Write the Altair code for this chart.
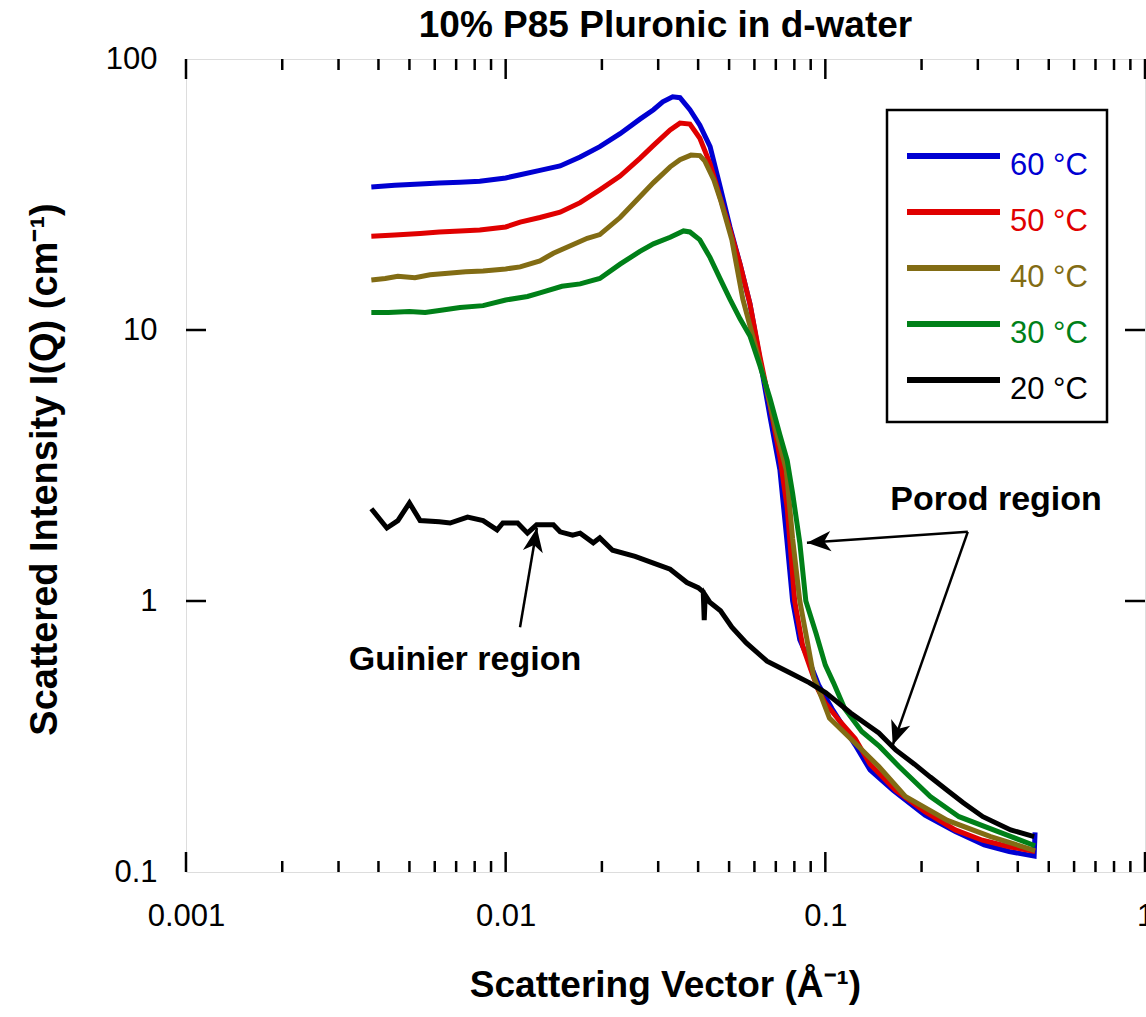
import math
import altair as alt
import pandas as pd

TITLE = "10% P85 Pluronic in d-water"
X_TITLE = "Scattering Vector (Å⁻¹)"
Y_TITLE = "Scattered Intensity I(Q) (cm⁻¹)"

labels = ["60 °C", "50 °C", "40 °C", "30 °C", "20 °C"]
colors = ["#0000d2", "#e00000", "#826c14", "#008018", "#000000"]

q60 = [0.0038, 0.0045, 0.0054, 0.0062, 0.0072, 0.0083, 0.0100, 0.0111, 0.0128, 0.0148,
       0.0171, 0.0197, 0.0228, 0.0263, 0.0290, 0.0310, 0.0333, 0.0351, 0.0377, 0.0405,
       0.0436, 0.0468, 0.0503, 0.0541, 0.0581, 0.0624, 0.0671, 0.0721, 0.0758, 0.0790,
       0.0832, 0.0885, 0.0953, 0.105, 0.124, 0.138, 0.163, 0.205, 0.255, 0.314,
       0.376, 0.450, 0.453]
I60 = [33.7, 34.2, 34.6, 34.9, 35.1, 35.4, 36.4, 37.4, 38.8, 40.3,
       43.5, 47.5, 53.0, 60.0, 65.0, 69.5, 72.5, 72.0, 65.0, 57.0,
       47.5, 34.0, 24.0, 17.5, 12.5, 7.8, 4.8, 3.04, 1.68, 1.0,
       0.72, 0.61, 0.49, 0.40, 0.294, 0.238, 0.20, 0.162, 0.141, 0.126,
       0.119, 0.1145, 0.14]

q50 = [0.0038, 0.0045, 0.0054, 0.0062, 0.0072, 0.0083, 0.0100, 0.0111, 0.0128, 0.0148,
       0.0171, 0.0197, 0.0228, 0.0263, 0.0290, 0.0327, 0.0351, 0.0377, 0.0405, 0.0436,
       0.0468, 0.0503, 0.0541, 0.0581, 0.0624, 0.0671, 0.0721, 0.0760, 0.0802, 0.0850,
       0.0900, 0.0950, 0.100, 0.111, 0.124, 0.138, 0.166, 0.205, 0.255, 0.310,
       0.376, 0.453]
I50 = [22.2, 22.4, 22.7, 23.0, 23.2, 23.4, 24.0, 25.0, 26.0, 27.2,
       29.5, 32.9, 37.0, 43.0, 48.0, 54.7, 58.0, 57.5, 51.0, 41.0,
       31.0, 23.5, 17.5, 12.5, 8.0, 5.3, 3.4, 2.2, 1.0, 0.68,
       0.56, 0.47, 0.42, 0.36, 0.31, 0.25, 0.20, 0.167, 0.143, 0.131,
       0.124, 0.119]

q40 = [0.0038, 0.0042, 0.0046, 0.0052, 0.0058, 0.0066, 0.0075, 0.0085, 0.0100, 0.0111,
       0.0128, 0.0141, 0.0160, 0.0180, 0.0197, 0.0228, 0.0263, 0.0290, 0.0327, 0.0351,
       0.0380, 0.0405, 0.0420, 0.0448, 0.0470, 0.0510, 0.0552, 0.0600, 0.0650, 0.0700,
       0.0755, 0.0790, 0.0832, 0.0880, 0.0920, 0.103, 0.120, 0.147, 0.178, 0.241,
       0.329, 0.453]
I40 = [15.3, 15.5, 15.8, 15.6, 16.0, 16.2, 16.4, 16.5, 16.8, 17.1,
       18.0, 19.2, 20.5, 21.8, 22.5, 26.0, 31.0, 35.0, 40.0, 42.5,
       44.2, 44.0, 42.0, 35.8, 30.2, 21.5, 13.0, 9.0, 6.3, 4.3,
       3.04, 1.7, 1.0, 0.70, 0.525, 0.37, 0.31, 0.245, 0.19, 0.155,
       0.135, 0.12]

q30 = [0.0038, 0.0043, 0.0050, 0.0056, 0.0062, 0.0072, 0.0085, 0.0100, 0.0117, 0.0128,
       0.0150, 0.0171, 0.0197, 0.0228, 0.0263, 0.0290, 0.0327, 0.0360, 0.0377, 0.0405,
       0.0436, 0.0468, 0.0503, 0.0541, 0.0581, 0.0624, 0.0671, 0.0721, 0.0760, 0.0790,
       0.0832, 0.0869, 0.0935, 0.100, 0.106, 0.115, 0.130, 0.148, 0.170, 0.213,
       0.262, 0.352, 0.453]
I30 = [11.6, 11.6, 11.7, 11.6, 11.8, 12.1, 12.3, 12.9, 13.3, 13.7,
       14.5, 14.8, 15.5, 17.5, 19.5, 20.8, 22.0, 23.2, 23.0, 21.5,
       18.5, 15.5, 13.0, 11.0, 9.5, 7.4, 5.6, 4.1, 3.3, 2.5,
       1.64, 1.0, 0.76, 0.58, 0.50, 0.40, 0.33, 0.29, 0.245, 0.19,
       0.16, 0.14, 0.125]

q20 = [0.0038, 0.00425, 0.0046, 0.0050, 0.0054, 0.0062, 0.0067, 0.0076, 0.0085, 0.0094,
       0.0098, 0.0109, 0.0117, 0.0125, 0.0141, 0.0148, 0.0162, 0.0171, 0.0188, 0.0197,
       0.0216, 0.0254, 0.0290, 0.0327, 0.0369, 0.0400, 0.0415, 0.0418, 0.0421, 0.0435,
       0.0470, 0.0510, 0.0566, 0.0657, 0.0783, 0.0890, 0.1004, 0.120, 0.147, 0.166,
       0.190, 0.213, 0.241, 0.270, 0.311, 0.380, 0.450]
I20 = [2.19, 1.86, 1.98, 2.30, 1.98, 1.96, 1.94, 2.04, 1.98, 1.83,
       1.94, 1.94, 1.78, 1.91, 1.91, 1.80, 1.75, 1.78, 1.64, 1.71,
       1.54, 1.46, 1.38, 1.31, 1.17, 1.12, 1.08, 0.85, 1.05, 0.99,
       0.92, 0.80, 0.70, 0.60, 0.54, 0.50, 0.458, 0.386, 0.326, 0.282,
       0.25, 0.224, 0.20, 0.18, 0.16, 0.143, 0.135]

x_tick_values = [0.001, 0.01, 0.1, 1]
x_minor_ticks = [0.002, 0.003, 0.004, 0.005, 0.006, 0.007, 0.008, 0.009,
                 0.02, 0.03, 0.04, 0.05, 0.06, 0.07, 0.08, 0.09,
                 0.2, 0.3, 0.4, 0.5, 0.6, 0.7, 0.8, 0.9]
y_tick_values = [0.1, 1, 10, 100]
y_inner_ticks = [1, 10]

ann_q = [0.00746, 0.342]
ann_I = [0.605, 2.36]
ann_text = ["Guinier region", "Porod region"]

arrow_q = [0.01109, 0.279, 0.279]
arrow_I = [0.80, 1.80, 1.80]
arrow_q2 = [0.01252, 0.0876, 0.1625]
arrow_I2 = [1.86, 1.64, 0.294]

# ---------------------------------------------------------------
W, H = 959, 813
FONT = "Liberation Sans"

series = [(labels[0], q60, I60), (labels[1], q50, I50), (labels[2], q40, I40),
          (labels[3], q30, I30), (labels[4], q20, I20)]
rows = []
for lab, qs, Is in series:
    assert len(qs) == len(Is), lab
    for k, (q, i) in enumerate(zip(qs, Is)):
        rows.append({"label": lab, "q": q, "I": i, "k": k})
df = pd.DataFrame(rows)

xscale = alt.Scale(type="log", domain=[0.001, 1], nice=False)
yscale = alt.Scale(type="log", domain=[0.1, 100], nice=False)
color_enc = alt.Color("label:N", scale=alt.Scale(domain=labels, range=colors), legend=None)

xaxis = alt.Axis(values=x_tick_values, format="~g", ticks=False, tickSize=0, domain=False,
                 grid=False, labelFont=FONT, labelFontSize=31, labelColor="black",
                 labelPadding=29, labelFlush=False, labelOverlap=False, labelBound=False,
                 title=X_TITLE, titleFont=FONT, titleFontSize=37, titleFontWeight="bold",
                 titleColor="black", titleX=479, titleY=113, titleAlign="center",
                 titleBaseline="middle")
yaxis = alt.Axis(values=y_tick_values, format="~g", ticks=False, tickSize=0, domain=False,
                 grid=False, labelFont=FONT, labelFontSize=31, labelColor="black",
                 labelPadding=29, labelFlush=False, labelOverlap=False,
                 title=Y_TITLE, titleFont=FONT, titleFontSize=38, titleFontWeight="bold",
                 titleColor="black", titleX=-141, titleY=410, titleAngle=270,
                 titleAlign="center", titleBaseline="middle")

# every x encoding carries the same axis definition so they merge into one axis
X = alt.X("q:Q", scale=xscale, axis=xaxis)
yt = alt.Y("I:Q", scale=yscale, axis=None)

layers = []
for idx, lab in enumerate(labels):
    layers.append(
        alt.Chart(df).transform_filter(alt.datum.label == lab)
        .mark_line(strokeWidth=5, strokeJoin="miter")
        .encode(
            x=X,
            y=alt.Y("I:Q", scale=yscale, axis=yaxis if idx == 0 else None),
            color=color_enc,
            order="k:Q",
        )
    )

# tick marks (inward)
df_xmaj = pd.DataFrame({"q": x_tick_values})
df_xmin = pd.DataFrame({"q": x_minor_ticks})
df_ytk = pd.DataFrame({"I": y_inner_ticks})
rule = dict(color="black", strokeWidth=2.5)
layers += [
    alt.Chart(df_xmaj).mark_rule(**rule).encode(x=X, y=alt.value(H), y2=alt.value(H - 20)),
    alt.Chart(df_xmaj).mark_rule(**rule).encode(x=X, y=alt.value(0), y2=alt.value(20)),
    alt.Chart(df_xmin).mark_rule(**rule).encode(x=X, y=alt.value(H), y2=alt.value(H - 11)),
    alt.Chart(df_xmin).mark_rule(**rule).encode(x=X, y=alt.value(0), y2=alt.value(11)),
    alt.Chart(df_ytk).mark_rule(**rule).encode(y=yt, x=alt.value(0), x2=alt.value(20)),
    alt.Chart(df_ytk).mark_rule(**rule).encode(y=yt, x=alt.value(W - 20), x2=alt.value(W)),
]

# annotations
df_ann = pd.DataFrame({"q": ann_q, "I": ann_I, "text": ann_text})
layers.append(
    alt.Chart(df_ann).mark_text(font=FONT, fontSize=34, fontWeight="bold", color="black",
                                align="center", baseline="middle")
    .encode(x=X, y=yt, text="text:N")
)
angles = []
for q1, i1, q2, i2 in zip(arrow_q, arrow_I, arrow_q2, arrow_I2):
    dsx = (math.log10(q2) - math.log10(q1)) * W / 3
    dsy = -(math.log10(i2) - math.log10(i1)) * H / 3
    angles.append(math.degrees(math.atan2(dsx, -dsy)) % 360)
df_arr = pd.DataFrame({"q": arrow_q, "I": arrow_I, "q2": arrow_q2, "I2": arrow_I2,
                       "angle": angles})
layers.append(
    alt.Chart(df_arr).mark_rule(color="black", strokeWidth=2.5)
    .encode(x=X, y=yt, x2="q2:Q", y2="I2:Q")
)
ARROW = "M0,0 L0.42,1 L0,0.72 L-0.42,1 Z"
layers.append(
    alt.Chart(df_arr).mark_point(shape=ARROW, filled=True, size=2300, color="black",
                                 opacity=1, strokeWidth=0)
    .encode(x=alt.X("q2:Q", scale=xscale, axis=xaxis),
            y=alt.Y("I2:Q", scale=yscale, axis=None),
            angle=alt.Angle("angle:Q", scale=None))
)

# legend box
df_leg = pd.DataFrame({"label": labels})
leg_y = alt.Y("label:N", scale=alt.Scale(type="point", domain=labels, range=[97, 321], padding=0),
              axis=None)
layers += [
    alt.Chart(pd.DataFrame({"a": [0]})).mark_rect(fill="white", stroke="black", strokeWidth=2.5)
    .encode(x=alt.value(701), x2=alt.value(921), y=alt.value(51), y2=alt.value(363)),
    alt.Chart(df_leg).mark_rule(strokeWidth=6)
    .encode(x=alt.value(721), x2=alt.value(814), y=leg_y, color=color_enc),
    alt.Chart(df_leg).mark_text(align="left", baseline="middle", dy=10, font=FONT, fontSize=31)
    .encode(x=alt.value(824), y=leg_y, text="label:N", color=color_enc),
]

chart = (
    alt.layer(*layers)
    .resolve_scale(y="independent")
    .properties(
        width=W, height=H,
        title=alt.TitleParams(TITLE, font=FONT, fontSize=37, fontWeight="bold", color="black",
                              anchor="middle", offset=0, dy=2),
        autosize=alt.AutoSizeParams(type="none"),
        padding={"left": 186, "top": 59, "right": 1, "bottom": 145},
    )
    .configure_view(stroke="black", strokeWidth=2.5)
    .configure(background="white")
)

chart.save("out.html", embed_options={"renderer": "svg", "actions": False})
